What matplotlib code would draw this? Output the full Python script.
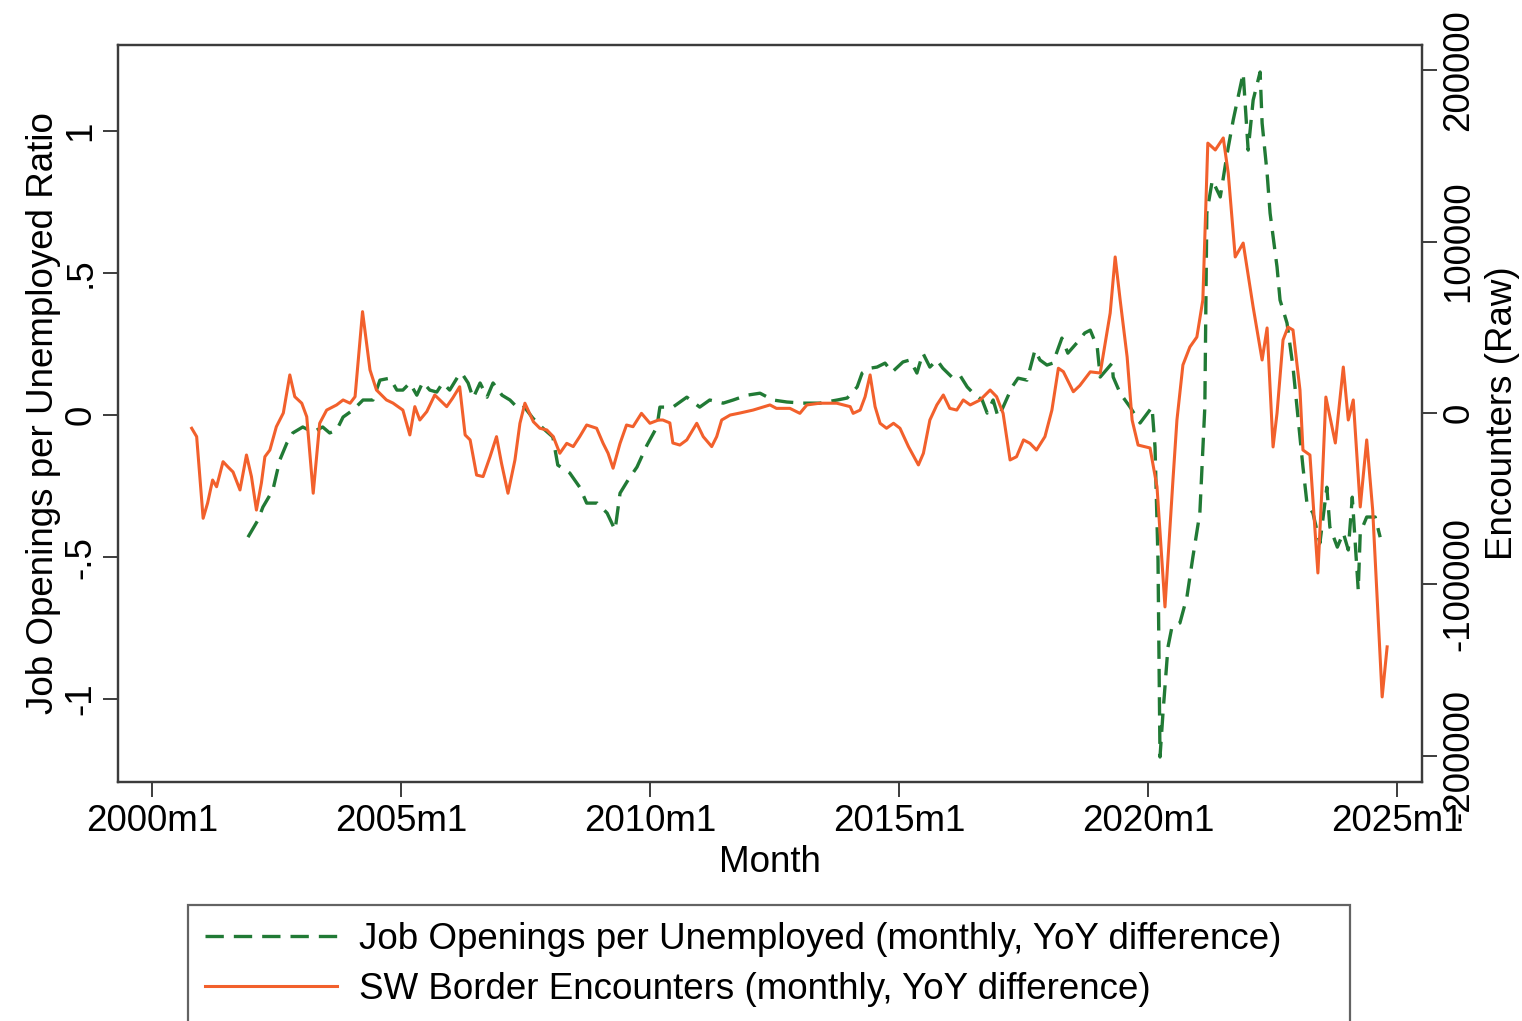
import numpy as np
import matplotlib
matplotlib.use("Agg")
import matplotlib.pyplot as plt

plt.rcParams["font.family"] = ["Liberation Sans", "DejaVu Sans"]
plt.rcParams["axes.unicode_minus"] = False

# job openings per unemployed, YoY difference (left axis)
jo_dates = [2001.93, 2002.13, 2002.23, 2002.43, 2002.57, 2002.71, 2002.83, 2003.03, 2003.23,
            2003.43, 2003.57, 2003.71, 2003.84, 2004.04, 2004.24, 2004.44, 2004.58, 2004.78,
            2004.92, 2005.04, 2005.18, 2005.32, 2005.44, 2005.58, 2005.72, 2005.84, 2005.98,
            2006.14, 2006.22, 2006.35, 2006.45, 2006.59, 2006.73, 2006.85, 2007.03, 2007.19,
            2007.33, 2007.45, 2007.65, 2007.85, 2008.05, 2008.15, 2008.39, 2008.59, 2008.73,
            2008.94, 2009.14, 2009.30, 2009.40, 2009.56, 2009.74, 2009.94, 2010.14, 2010.20,
            2010.46, 2010.74, 2011.00, 2011.20, 2011.47, 2011.67, 2011.95, 2012.21, 2012.47,
            2012.75, 2013.07, 2013.41, 2013.76, 2013.96, 2014.16, 2014.26, 2014.42, 2014.56,
            2014.72, 2014.86, 2015.08, 2015.22, 2015.36, 2015.48, 2015.62, 2015.76, 2015.88,
            2016.06, 2016.22, 2016.37, 2016.49, 2016.67, 2016.77, 2016.89, 2016.99, 2017.09,
            2017.27, 2017.39, 2017.57, 2017.73, 2017.83, 2017.97, 2018.09, 2018.27, 2018.39,
            2018.57, 2018.73, 2018.84, 2018.98, 2019.04, 2019.28, 2019.30, 2019.44, 2019.64,
            2019.84, 2020.08, 2020.14, 2020.20, 2020.24, 2020.30, 2020.40, 2020.48, 2020.64,
            2020.78, 2020.90, 2021.04, 2021.14, 2021.18, 2021.29, 2021.45, 2021.59, 2021.71,
            2021.91, 2022.01, 2022.11, 2022.25, 2022.29, 2022.39, 2022.45, 2022.59, 2022.65,
            2022.79, 2022.91, 2023.01, 2023.11, 2023.19, 2023.31, 2023.45, 2023.59, 2023.65,
            2023.80, 2023.92, 2024.02, 2024.10, 2024.22, 2024.26, 2024.39, 2024.56, 2024.66]
jo_vals = [-0.43, -0.37, -0.324, -0.264, -0.158, -0.099, -0.063, -0.042, -0.060,
           -0.042, -0.063, -0.053, -0.007, 0.018, 0.053, 0.053, 0.123, 0.130,
           0.088, 0.088, 0.113, 0.070, 0.116, 0.088, 0.081, 0.113, 0.088,
           0.134, 0.148, 0.113, 0.060, 0.113, 0.063, 0.113, 0.070, 0.053,
           0.028, 0.035, -0.011, -0.046, -0.077, -0.176, -0.204, -0.254, -0.310,
           -0.310, -0.345, -0.405, -0.275, -0.229, -0.183, -0.106, -0.042, 0.028,
           0.028, 0.063, 0.028, 0.053, 0.042, 0.053, 0.070, 0.077, 0.053,
           0.046, 0.042, 0.042, 0.053, 0.060, 0.099, 0.148, 0.165, 0.169,
           0.183, 0.151, 0.187, 0.194, 0.148, 0.218, 0.169, 0.194, 0.165,
           0.134, 0.141, 0.099, 0.077, 0.053, 0.007, 0.053, -0.007, 0.028,
           0.099, 0.130, 0.123, 0.229, 0.194, 0.176, 0.183, 0.271, 0.218,
           0.254, 0.289, 0.299, 0.239, 0.134, 0.183, 0.134, 0.077, 0.028,
           -0.028, 0.028, -0.113, -0.511, -1.204, -1.049, -0.817, -0.746, -0.732,
           -0.641, -0.500, -0.345, 0.028, 0.711, 0.827, 0.768, 0.923, 1.039,
           1.204, 0.933, 1.109, 1.208, 1.028, 0.852, 0.711, 0.521, 0.405,
           0.324, 0.169, -0.007, -0.183, -0.310, -0.345, -0.451, -0.254, -0.394,
           -0.465, -0.415, -0.475, -0.289, -0.616, -0.415, -0.359, -0.359, -0.430]

# SW border encounters, YoY difference (right axis)
bd_dates = [2000.80, 2000.90, 2001.03, 2001.12, 2001.22, 2001.30, 2001.43, 2001.53, 2001.63,
            2001.77, 2001.90, 2002.00, 2002.10, 2002.20, 2002.27, 2002.37, 2002.50, 2002.64,
            2002.77, 2002.87, 2003.01, 2003.11, 2003.24, 2003.37, 2003.51, 2003.71, 2003.84,
            2003.98, 2004.08, 2004.23, 2004.38, 2004.51, 2004.71, 2004.84, 2005.04, 2005.18,
            2005.28, 2005.38, 2005.52, 2005.68, 2005.92, 2006.04, 2006.18, 2006.29, 2006.39,
            2006.52, 2006.65, 2006.79, 2006.92, 2007.02, 2007.15, 2007.29, 2007.39, 2007.49,
            2007.66, 2007.79, 2007.93, 2008.06, 2008.19, 2008.33, 2008.46, 2008.59, 2008.73,
            2008.93, 2009.06, 2009.16, 2009.26, 2009.40, 2009.53, 2009.66, 2009.83, 2010.00,
            2010.17, 2010.26, 2010.40, 2010.46, 2010.60, 2010.74, 2010.94, 2011.07, 2011.24,
            2011.34, 2011.44, 2011.61, 2011.81, 2012.07, 2012.41, 2012.54, 2012.81, 2013.01,
            2013.15, 2013.41, 2013.75, 2014.02, 2014.08, 2014.22, 2014.32, 2014.42, 2014.52,
            2014.62, 2014.75, 2014.89, 2015.02, 2015.19, 2015.39, 2015.49, 2015.62, 2015.76,
            2015.89, 2016.02, 2016.16, 2016.29, 2016.43, 2016.63, 2016.83, 2016.96, 2017.09,
            2017.23, 2017.36, 2017.50, 2017.63, 2017.76, 2017.93, 2018.07, 2018.20, 2018.30,
            2018.50, 2018.63, 2018.84, 2019.04, 2019.24, 2019.34, 2019.44, 2019.58, 2019.68,
            2019.80, 2020.04, 2020.18, 2020.34, 2020.50, 2020.58, 2020.70, 2020.84, 2020.98,
            2021.10, 2021.18, 2021.20, 2021.35, 2021.51, 2021.61, 2021.75, 2021.91, 2022.11,
            2022.29, 2022.39, 2022.51, 2022.59, 2022.71, 2022.81, 2022.91, 2023.05, 2023.11,
            2023.25, 2023.41, 2023.49, 2023.57, 2023.76, 2023.92, 2024.02, 2024.12, 2024.26,
            2024.39, 2024.51, 2024.70, 2024.80]
bd_vals = [-8900, -13800, -61400, -52500, -39100, -43000, -28400, -31500, -34400,
           -44900, -24500, -37100, -56600, -40800, -25500, -21600, -8000, 0,
           22200, 9500, 5700, -2200, -46800, -6000, 1700, 4700, 7600,
           5700, 9500, 59100, 25100, 13400, 7600, 5800, 1700, -12800,
           3700, -4100, 800, 10500, 3700, 8700, 15300, -12800, -15700,
           -36200, -37100, -25500, -13800, -29300, -46800, -27400, -6000, 5700,
           -5100, -8900, -9900, -13800, -23500, -17700, -19600, -13800, -7000,
           -8900, -17700, -23500, -32200, -17700, -7000, -8000, -200, -6000,
           -4100, -4100, -5800, -17500, -18700, -15700, -6000, -13800, -19600,
           -13800, -4100, -1200, 0, 1700, 4700, 2700, 2700, -200,
           4700, 5700, 5700, 3700, -200, 1700, 9500, 22200, 3700,
           -6000, -8900, -6000, -8900, -19600, -30300, -23500, -4100, 4700,
           10500, 2700, 1700, 7600, 4700, 7600, 13400, 9500, -200,
           -27400, -25500, -15700, -17700, -21600, -13800, 1700, 26100, 24100,
           12400, 16000, 24000, 23300, 58300, 91000, 65900, 32700, -4100,
           -18700, -20400, -43100, -113100, -39100, -4100, 28000, 38500, 44300,
           65900, 139900, 157400, 153400, 160400, 139900, 91000, 99100, 61800,
           30900, 49600, -19800, 0, 42600, 50100, 48400, 13400, -21600,
           -24500, -93300, -44900, 9300, -17500, 26800, -4100, 7600, -54800,
           -15700, -56600, -165600, -136400]

xticks = [2000, 2005, 2010, 2015, 2020, 2025]
xticklabels = ["2000m1", "2005m1", "2010m1", "2015m1", "2020m1", "2025m1"]
yticks_l = [-1, -0.5, 0, 0.5, 1]
yticklabels_l = ["-1", "-.5", "0", ".5", "1"]
yticks_r = [-200000, -100000, 0, 100000, 200000]
yticklabels_r = ["-200000", "-100000", "0", "100000", "200000"]

green = "#217a35"
orange = "#f2602c"
frame = "#3c3c3c"
fs = 26.5

fig = plt.figure(figsize=(15.22, 10.21), dpi=100)
ax = fig.add_axes([0.0775, 0.2341, 0.8568, 0.7218])
ax2 = ax.twinx()

l1, = ax.plot(jo_dates, jo_vals, color=green, lw=2.4, dashes=(5.5, 3.0),
              label="Job Openings per Unemployed (monthly, YoY difference)")
l2, = ax2.plot(bd_dates, bd_vals, color=orange, lw=2.2,
               label="SW Border Encounters (monthly, YoY difference)")

ax.set_xlim(1999.32, 2025.5)
ax.set_ylim(-1.292, 1.303)
ax2.set_ylim(-215200, 214600)

ax.set_xticks(xticks)
ax.set_xticklabels(xticklabels)
ax.set_yticks(yticks_l)
ax.set_yticklabels(yticklabels_l)
ax2.set_yticks(yticks_r)
ax2.set_yticklabels(yticklabels_r)

for a in (ax, ax2):
    for s in a.spines.values():
        s.set_color(frame)
        s.set_linewidth(1.6)
    a.tick_params(length=11, width=1.4, color=frame, labelsize=fs, pad=5)

ax.tick_params(axis="y", labelrotation=90, pad=3)
ax2.tick_params(axis="y", labelrotation=90, pad=3)
for lab in ax.get_yticklabels() + ax2.get_yticklabels():
    lab.set_va("center")

ax.set_xlabel("Month", fontsize=fs, labelpad=4)
ax.set_ylabel("Job Openings per Unemployed Ratio", fontsize=fs, labelpad=2)
ax2.set_ylabel("Encounters (Raw)", fontsize=fs, rotation=90, labelpad=6)

leg_left = 188 / 1522
leg_w = (1350 - 188) / 1522
fig.legend(handles=[l1, l2], loc="upper left",
           bbox_to_anchor=(leg_left, 1 - 905 / 1021 - 0.2, leg_w, 0.2), mode="expand",
           ncol=1, fontsize=fs, frameon=True, fancybox=False, edgecolor=frame,
           handlelength=3.6, handletextpad=0.6, borderpad=0.45, labelspacing=0.42,
           borderaxespad=0)
fig.legends[0].get_frame().set_linewidth(1.6)

fig.savefig("out.png", dpi=100)
